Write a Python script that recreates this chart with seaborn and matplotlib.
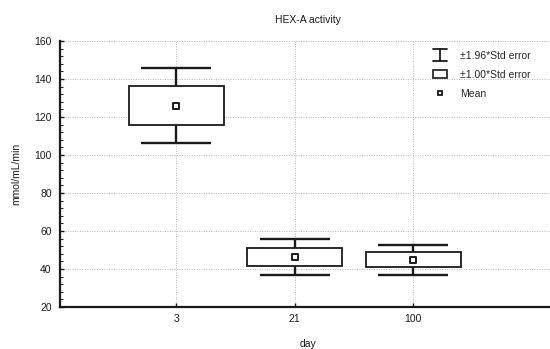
import numpy as np
import pandas as pd
import matplotlib
matplotlib.use("Agg")
import matplotlib.pyplot as plt
from matplotlib.patches import Rectangle
from matplotlib.lines import Line2D
from matplotlib.legend_handler import HandlerBase
from matplotlib.ticker import MultipleLocator
import seaborn as sns

days = ["3", "21", "100"]
means = [126.0, 46.4, 44.9]
std_err = [10.1, 4.8, 4.0]

title = "HEX-A activity"
xlabel = "day"
ylabel = "mmol/mL/min"
legend_labels = ["±1.96*Std error", "±1.00*Std error", "Mean"]

sns.set_theme(style="white")
plt.rcParams["font.family"] = ["Liberation Sans", "DejaVu Sans"]

df = pd.DataFrame({"day": days, "mean": means, "se": std_err})
df["box_lo"] = df["mean"] - df["se"]
df["box_hi"] = df["mean"] + df["se"]

fig = plt.figure(figsize=(5.5, 3.49), dpi=100)
ax = fig.add_axes([60 / 550, 1 - 307 / 349, 1 - 60 / 550 + 0.01, (307 - 41) / 349])

pos = np.arange(len(days))
ink = "#1a1a1a"
fs = 7.5

# whiskers (±1.96*SE)
ax.errorbar(pos, df["mean"], yerr=1.96 * df["se"], fmt="none",
            ecolor=ink, elinewidth=1.7, capsize=25.5, capthick=1.7, zorder=2)
# boxes (±1.00*SE)
ax.bar(pos, df["box_hi"] - df["box_lo"], bottom=df["box_lo"], width=0.8,
       facecolor="white", edgecolor=ink, linewidth=1.3, zorder=3)
# means
sns.scatterplot(data=df, x="day", y="mean", marker="s", s=14, color="white",
                edgecolor=ink, linewidth=1.4, zorder=4, ax=ax, legend=False)

ax.set_xlim(-0.98, 3.2)
ax.set_ylim(20, 160)
ax.set_xticks(pos)
ax.set_xticklabels(days)
ax.yaxis.set_major_locator(MultipleLocator(20))
ax.yaxis.set_minor_locator(MultipleLocator(4))

ax.grid(True, which="major", color="#b5b5b5", linestyle=(0, (1, 1.5)), linewidth=0.7, zorder=0)
ax.set_axisbelow(True)

for s in ["top", "right"]:
    ax.spines[s].set_visible(False)
for s in ["left", "bottom"]:
    ax.spines[s].set_color(ink)
    ax.spines[s].set_linewidth(1.6)

ax.tick_params(axis="both", which="major", labelsize=fs, colors=ink, length=3,
               width=1, direction="in")
ax.tick_params(axis="y", which="minor", length=2, width=0.8, direction="in", left=True)
ax.tick_params(axis="y", which="major", left=True, pad=6)
ax.tick_params(axis="x", which="major", bottom=True, pad=5)

ax.set_title(title, fontsize=fs, color=ink, pad=13)
ax.set_xlabel(xlabel, fontsize=fs, color=ink, labelpad=11)
ax.set_ylabel(ylabel, fontsize=fs, color=ink, labelpad=9)


class HandlerIBeam(HandlerBase):
    def create_artists(self, legend, orig_handle, xdescent, ydescent, width, height,
                       fontsize, trans):
        x0, x1 = -xdescent, -xdescent + width
        y0 = -ydescent - 1.5
        y1 = -ydescent + height + 1.5
        xm = (x0 + x1) / 2
        kw = dict(color=ink, linewidth=1.3, transform=trans)
        return [Line2D([x0, x1], [y1, y1], **kw),
                Line2D([x0, x1], [y0, y0], **kw),
                Line2D([xm, xm], [y0, y1], **kw)]


ibeam_handle = Line2D([], [])
box_handle = Rectangle((0, 0), 1, 1, facecolor="white", edgecolor=ink, linewidth=1.2)
mean_handle = Line2D([], [], linestyle="none", marker="s", markersize=3.5,
                     markerfacecolor="white", markeredgecolor=ink, markeredgewidth=1.3)
leg = fig.legend([ibeam_handle, box_handle, mean_handle], legend_labels,
                 loc="upper left", bbox_to_anchor=(433 / 550, 1 - 51 / 349),
                 bbox_transform=fig.transFigure, frameon=False, borderpad=0,
                 borderaxespad=0, fontsize=fs, handlelength=1.35, handleheight=0.8,
                 handletextpad=1.25, labelspacing=0.85,
                 handler_map={ibeam_handle: HandlerIBeam()})

fig.savefig("out.png", dpi=100)
